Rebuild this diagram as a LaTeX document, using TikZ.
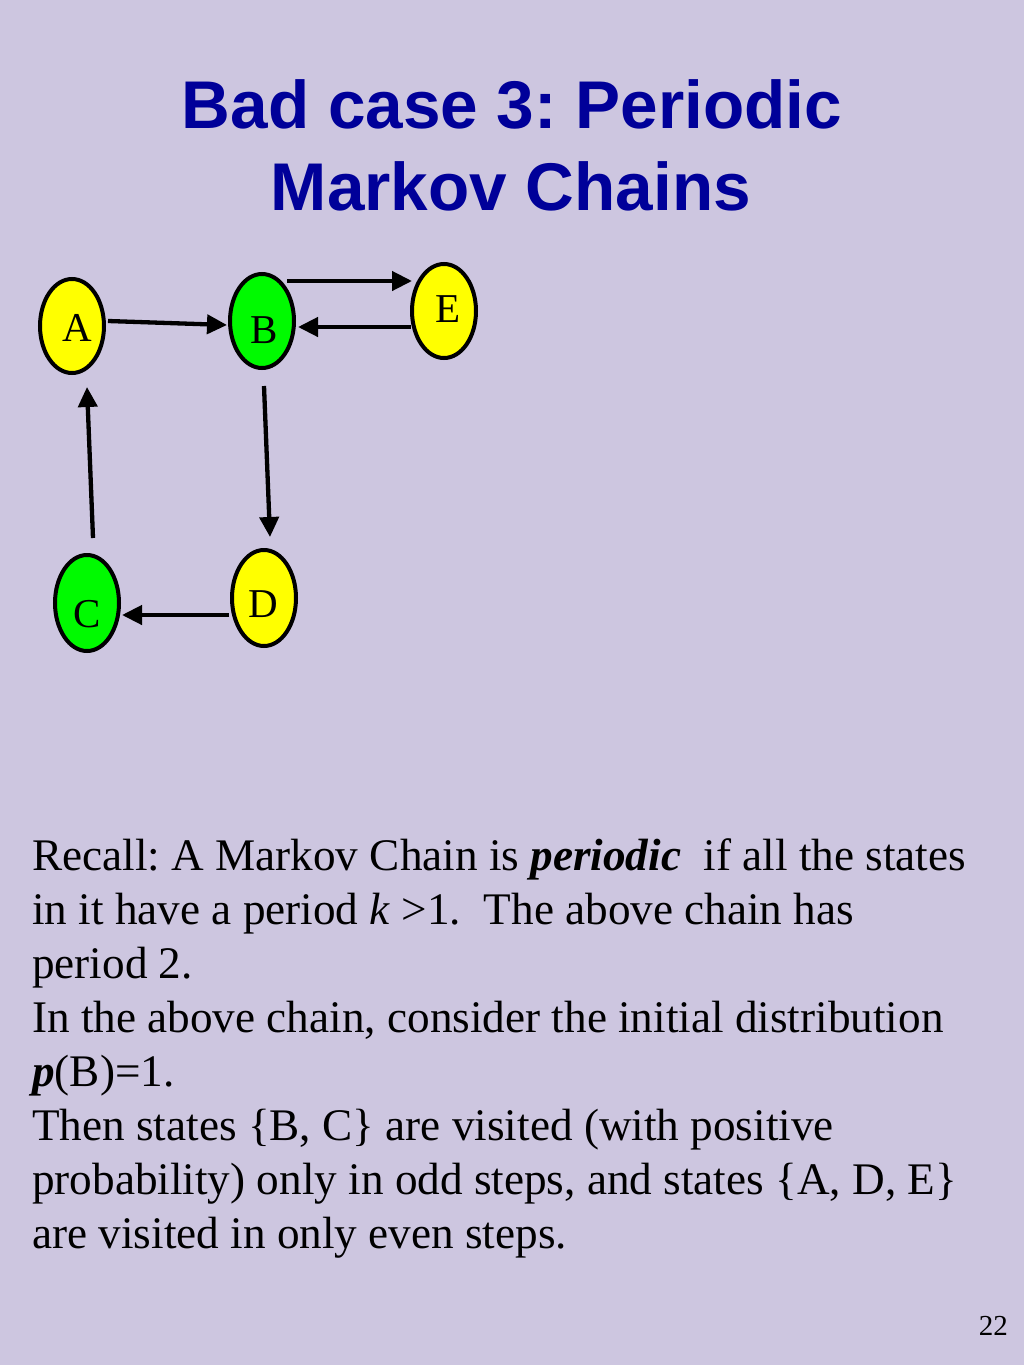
\documentclass[tikz,border=0pt]{standalone}
\usepackage{fontspec}
\setmainfont{Liberation Serif}
\newfontfamily\titlefont{Liberation Sans}
\usetikzlibrary{shapes.geometric,arrows.meta}
\definecolor{bg}{RGB}{205,198,224}
\definecolor{titleblue}{RGB}{0,0,153}
\definecolor{stgreen}{RGB}{0,250,0}
\definecolor{styellow}{RGB}{255,255,0}
\frenchspacing
\begin{document}
\begin{tikzpicture}[x=1pt,y=-1pt,
 state/.style={ellipse,draw=black,line width=4pt,inner sep=0pt,minimum width=64pt,minimum height=94pt},
 lbl/.style={font=\fontsize{41}{41}\selectfont,anchor=base,inner sep=0pt},
 arr/.style={line width=4.3pt,-{Triangle[length=20pt,width=19pt]}},
 body/.style={anchor=base west,inner sep=0pt,font=\fontsize{45.2}{54}\selectfont},
 ttl/.style={anchor=base,inner sep=0pt,text=titleblue,font=\titlefont\bfseries\fontsize{67.5}{82}\selectfont}]
\fill[bg] (0,0) rectangle (1024,1365);
\useasboundingbox (0,0) rectangle (1024,1365);
% title
\node[ttl] (title1) at (512,128) {Bad case 3: Periodic};
\node[ttl] (title2) at (511,210) {Markov Chains};
% states
\node[state,fill=styellow] (A) at (72,326) {};
\node[state,fill=stgreen] (B) at (262,321) {};
\node[state,fill=styellow] (E) at (444,311) {};
\node[state,fill=stgreen,minimum height=96pt] (C) at (87,603) {};
\node[state,fill=styellow,minimum height=96pt] (D) at (264,598) {};
\node[lbl] (lA) at (77,341) {A};
\node[lbl] (lB) at (264,343) {B};
\node[lbl] (lE) at (448,322) {E};
\node[lbl] (lC) at (87,627) {C};
\node[lbl] (lD) at (263,617) {D};
% connector end points
\coordinate (ab1) at (108,321); \coordinate (ab2) at (227,325);
\coordinate (be1) at (287,281); \coordinate (be2) at (412,281);
\coordinate (eb1) at (411,327); \coordinate (eb2) at (298,327);
\coordinate (bd1) at (264,386); \coordinate (bd2) at (270,537);
\coordinate (dc1) at (229,615); \coordinate (dc2) at (122,615);
\coordinate (ca1) at (93,538);  \coordinate (ca2) at (87,387);
\draw[arr] (ab1) -- (ab2);
\draw[arr] (be1) -- (be2);
\draw[arr] (eb1) -- (eb2);
\draw[arr] (bd1) -- (bd2);
\draw[arr] (dc1) -- (dc2);
\draw[arr] (ca1) -- (ca2);
% body text
\node[body] (t1) at (32,870) {Recall: A Markov Chain is \textbf{\textit{periodic}}\ \ if all the states};
\node[body] (t2) at (32,924) {in it have a period \textit{k} >1.\ \ The above chain has};
\node[body] (t3) at (32,978) {period 2.};
\node[body] (t4) at (32,1032) {In the above chain, consider the initial distribution};
\node[body] (t5) at (32,1086) {\textbf{\textit{p}}(B)=1.};
\node[body] (t6) at (32,1140) {Then states \{B, C\} are visited (with positive};
\node[body] (t7) at (32,1194) {probability) only in odd steps, and states \{A, D, E\}};
\node[body] (t8) at (32,1248) {are visited in only even steps.};
\node[anchor=base east,inner sep=0pt,font=\fontsize{29}{29}\selectfont] (pg) at (1008,1335) {22};
\end{tikzpicture}
\end{document}
